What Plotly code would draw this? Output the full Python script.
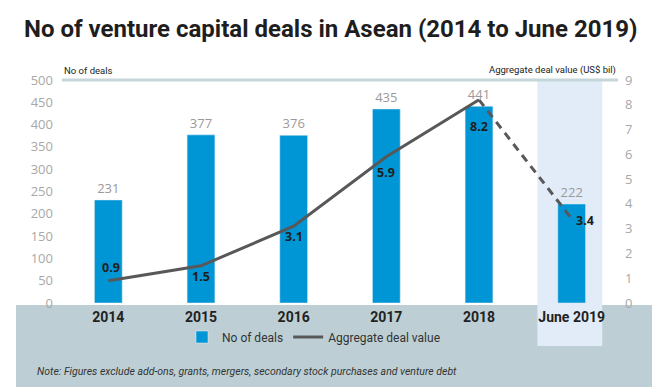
import plotly.graph_objects as go

categories = ["2014", "2015", "2016", "2017", "2018", "June 2019"]
deals = [231, 377, 376, 435, 441, 222]
deal_value = [0.9, 1.5, 3.1, 5.9, 8.2, 3.4]
value_label_shift = [(3, 13), (0, -11), (0, -10), (0, -16), (0, -27), (13, -2)]

FONT = "Roboto, sans-serif"
OPEN = "Open Sans, sans-serif"
BLUE = "#0096d6"
LINE = "#585858"

# page body has an 8px margin: the figure is drawn 8px right/down
OFF = 8
PL, PR, PT, PB = 62, 618, 80, 303   # plot area in reference pixels
PW, PH = PR - PL, PB - PT


def px(x):
    return (x - PL) / PW


def py(y):
    return (PB - y) / PH


fig = go.Figure()

fig.add_trace(go.Bar(
    x=categories, y=deals, name="No of deals", marker_color=BLUE,
    width=0.3, text=[str(v) for v in deals], textposition="outside",
    textfont=dict(family=OPEN, size=13, color="#9a9a9a"),
    cliponaxis=False, yaxis="y",
))
fig.add_trace(go.Scatter(
    x=categories[:5], y=deal_value[:5], mode="lines", name="Aggregate deal value",
    line=dict(color=LINE, width=3), yaxis="y2",
))
fig.add_trace(go.Scatter(
    x=categories[4:], y=deal_value[4:], mode="lines", showlegend=False,
    line=dict(color=LINE, width=3, dash="8px,6px"), yaxis="y2",
))

for i, (v, (dx, dy)) in enumerate(zip(deal_value, value_label_shift)):
    fig.add_annotation(x=i, xref="x", y=v, yref="y2", text=f"<b>{v}</b>", showarrow=False,
                       xshift=dx, yshift=dy,
                       font=dict(family=OPEN, size=12.5, color="#1e1e1e"))

shapes = [
    dict(type="rect", xref="paper", yref="paper", x0=px(16), x1=px(652),
         y0=py(387), y1=py(305), fillcolor="#bdcfd4", line_width=0, layer="below"),
    dict(type="rect", xref="x", yref="paper", x0=4.63, x1=5.33,
         y0=py(346), y1=1, fillcolor="#e1ecf8", line_width=0, layer="below"),
    dict(type="line", xref="paper", yref="paper", x0=0, x1=1, y0=1, y1=1,
         line=dict(color="#c5d6da", width=3), layer="below"),
]

fig.update_layout(
    width=662 - OFF, height=390 - OFF,
    margin=dict(l=PL - OFF, r=662 - PR, t=PT - OFF, b=390 - PB),
    paper_bgcolor="white", plot_bgcolor="rgba(0,0,0,0)",
    shapes=shapes,
    showlegend=True,
    legend=dict(orientation="h", x=px(314), xanchor="center", y=py(337), yanchor="middle",
                font=dict(family=FONT, size=12, color="#333"),
                bgcolor="rgba(0,0,0,0)", itemwidth=30),
    xaxis=dict(type="category", range=[-0.5, 5.5], showgrid=False, showline=False,
               zeroline=False, ticks="",
               tickfont=dict(family=FONT, size=14, color="#222", weight="bold"),
               ticklabelstandoff=4),
    yaxis=dict(range=[0, 500], dtick=50, showgrid=False, zeroline=False, showline=False,
               tickfont=dict(family=OPEN, size=13, color="#a8a8a8"),
               ticklabelstandoff=8),
    yaxis2=dict(range=[0, 9], dtick=1, overlaying="y", side="right", showgrid=False,
                zeroline=False, showline=False,
                tickfont=dict(family=OPEN, size=13, color="#a8a8a8"),
                ticklabelstandoff=6),
    bargap=0.7,
)

fig.add_annotation(xref="paper", yref="paper", x=px(22), y=py(29),
                   xanchor="left", yanchor="middle", showarrow=False,
                   text="<b>No of venture capital deals in Asean (2014 to June 2019)</b>",
                   font=dict(family=FONT, size=24, color="#1e1e1e"))
fig.add_annotation(xref="paper", yref="paper", x=0, y=py(70), xanchor="left",
                   yanchor="middle", showarrow=False, text="No of deals",
                   font=dict(family=FONT, size=9.5, color="#222"))
fig.add_annotation(xref="paper", yref="paper", x=1, y=py(70), xanchor="right",
                   yanchor="middle", showarrow=False, text="Aggregate deal value (US$ bil)",
                   font=dict(family=FONT, size=9.5, color="#222"))
fig.add_annotation(xref="paper", yref="paper", x=px(35), y=py(371), xanchor="left",
                   yanchor="middle", showarrow=False,
                   text="<i>Note: Figures exclude add-ons, grants, mergers, secondary stock purchases and venture debt</i>",
                   font=dict(family=FONT, size=10.5, color="#333"))

fig.write_html("out.html")
